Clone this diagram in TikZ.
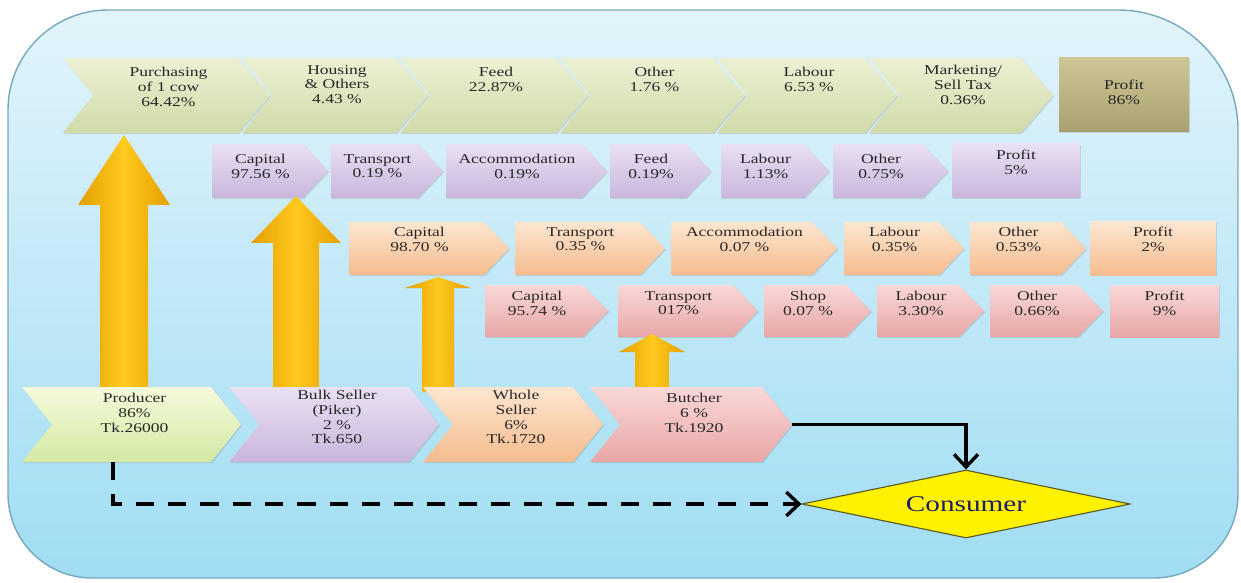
\documentclass[tikz,border=0pt]{standalone}
\usepackage{fontspec}
\setmainfont{Liberation Serif}[FakeStretch=1.3]
\usetikzlibrary{arrows.meta, shapes.geometric, shadows}

\definecolor{skytop}{RGB}{226,244,251}
\definecolor{skybot}{RGB}{160,221,243}
\definecolor{skyline}{RGB}{120,168,190}
\definecolor{sagetop}{RGB}{236,241,212}
\definecolor{sagebot}{RGB}{208,218,168}
\definecolor{khakitop}{RGB}{206,198,148}
\definecolor{khakibot}{RGB}{170,161,112}
\definecolor{lilactop}{RGB}{234,224,243}
\definecolor{lilacbot}{RGB}{200,182,220}
\definecolor{peachtop}{RGB}{253,230,208}
\definecolor{peachbot}{RGB}{245,188,142}
\definecolor{rosetop}{RGB}{250,216,216}
\definecolor{rosebot}{RGB}{232,166,166}
\definecolor{limetop}{RGB}{244,250,218}
\definecolor{limebot}{RGB}{212,233,164}
\definecolor{goldedge}{RGB}{228,158,0}
\definecolor{goldmid}{RGB}{255,202,30}
\definecolor{inktext}{RGB}{40,40,40}
\definecolor{navytext}{RGB}{30,30,100}
\definecolor{diaedge}{RGB}{90,90,40}

\tikzset{
  lbl/.style={align=center, inner sep=0pt, text=inktext, font=\fontsize{9.6}{10.5}\selectfont},
  boxshade/.style={drop shadow={opacity=0.25, shadow xshift=0.8pt, shadow yshift=-0.8pt}},
  sage/.style={boxshade, top color=sagetop, bottom color=sagebot},
  khaki/.style={boxshade, top color=khakitop, bottom color=khakibot},
  lilac/.style={boxshade, top color=lilactop, bottom color=lilacbot},
  peach/.style={boxshade, top color=peachtop, bottom color=peachbot},
  rose/.style={boxshade, top color=rosetop, bottom color=rosebot},
  lime/.style={boxshade, top color=limetop, bottom color=limebot},
  bigarrow/.style={left color=goldedge, right color=goldedge, middle color=goldmid},
  conn/.style={line width=2.4pt, -{Straight Barb[length=9pt,width=17pt]}},
  dconn/.style={conn, dash pattern=on 13pt off 10pt},
}

\newcommand{\chev}[8]{%
  \path[#2] (#3,#5) -- ({#4-\dep},#5) -- (#4,{(#5+#6)/2}) -- ({#4-\dep},#6) -- (#3,#6) -- ({#3+\notch},{(#5+#6)/2}) -- cycle;
  \node[lbl, anchor=north] (#1) at ({(#3+#4-\dep+\notch)/2+3},{#5+#7}) {#8};
  \coordinate (#1-tip) at (#4,{(#5+#6)/2});
}
\newcommand{\rbox}[8]{%
  \path[#2] (#3,#5) rectangle (#4,#6);
  \node[lbl, anchor=north] (#1) at ({(#3+#4)/2},{#5+#7}) {#8};
}
\newcommand{\upblock}[6]{%
  \path[bigarrow] ({#1-#5},#4) -- ({#1-#5},#3) -- ({#1-#6},#3) -- (#1,#2) -- ({#1+#6},#3) -- ({#1+#5},#3) -- ({#1+#5},#4) -- cycle;
}

\begin{document}
\begin{tikzpicture}[x=0.025cm, y=-0.025cm]
\useasboundingbox (0,0) rectangle (1241,583);
\path[draw=skyline, line width=1pt, top color=skytop, bottom color=skybot]
  (8,300) [rounded corners=2.5cm] -- (8,10) [rounded corners=3cm] -- (1238,10)
  [rounded corners=2.1cm] -- (1238,578) [rounded corners=2.1cm] -- (8,578) -- cycle;

\def\dep{32}\def\notch{30}
\chev{pc1}{sage}{63}{270}{58}{133}{9}{Purchasing\\of 1 cow\\64.42\%}
\chev{pc2}{sage}{242}{428}{58}{133}{7}{Housing\\\& Others\\4.43 \%}
\chev{pc3}{sage}{400}{588}{58}{133}{9}{Feed\\22.87\%}
\chev{pc4}{sage}{560}{745}{58}{133}{9}{Other\\1.76 \%}
\chev{pc5}{sage}{717}{897}{58}{133}{9}{Labour\\6.53 \%}
\chev{pc6}{sage}{869}{1053}{58}{133}{7}{Marketing/\\Sell Tax\\0.36\%}
\rbox{pc7}{khaki}{1059}{1189}{58}{132}{22}{Profit\\86\%}

\def\dep{25}\def\notch{0}
\chev{pp1}{lilac}{212}{328}{144}{198}{10}{Capital\\97.56 \%}
\chev{pp2}{lilac}{331}{443}{144}{198}{10}{Transport\\0.19 \%}
\chev{pp3}{lilac}{446}{607}{144}{198}{10}{Accommodation\\0.19\%}
\chev{pp4}{lilac}{610}{711}{144}{198}{10}{Feed\\0.19\%}
\chev{pp5}{lilac}{721}{829}{144}{198}{10}{Labour\\1.13\%}
\chev{pp6}{lilac}{833}{948}{144}{198}{10}{Other\\0.75\%}
\rbox{pp7}{lilac}{952}{1080}{144}{198}{6}{Profit\\5\%}

\chev{po1}{peach}{349}{509}{222}{275}{5}{Capital\\98.70 \%}
\chev{po2}{peach}{515}{665}{222}{275}{5}{Transport\\0.35 \%}
\chev{po3}{peach}{671}{837}{222}{275}{5}{Accommodation\\0.07 \%}
\chev{po4}{peach}{844}{964}{222}{275}{5}{Labour\\0.35\%}
\chev{po5}{peach}{970}{1086}{222}{275}{5}{Other\\0.53\%}
\rbox{po6}{peach}{1090}{1216}{222}{275}{5}{Profit\\2\%}

\chev{pk1}{rose}{485}{608}{285}{337}{6}{Capital\\95.74 \%}
\chev{pk2}{rose}{618}{758}{285}{337}{6}{Transport\\017\%}
\chev{pk3}{rose}{764}{871}{285}{337}{6}{Shop\\0.07 \%}
\chev{pk4}{rose}{877}{984}{285}{337}{6}{Labour\\3.30\%}
\chev{pk5}{rose}{990}{1103}{285}{337}{6}{Other\\0.66\%}
\rbox{pk6}{rose}{1110}{1219}{285}{337}{6}{Profit\\9\%}

\upblock{124}{135}{205}{392}{24}{46}
\upblock{296}{196}{243}{392}{23}{45}
\upblock{438}{277}{288}{392}{16}{33}
\upblock{652}{334}{352}{392}{17}{33}

\def\dep{30}\def\notch{30}
\chev{prod}{lime}{22}{241}{387}{462}{6}{Producer\\86\%\\Tk.26000}
\chev{bulk}{lilac}{229}{439}{387}{462}{3}{Bulk Seller\\(Piker)\\2 \%\\Tk.650}
\chev{whole}{peach}{423}{603}{387}{462}{3}{Whole\\Seller\\6\%\\Tk.1720}
\chev{butch}{rose}{590}{792}{387}{462}{6}{Butcher\\6 \%\\Tk.1920}

\node[diamond, draw=diaedge, line width=0.8pt, fill=yellow, aspect=4.8,
  minimum width=8.2cm, minimum height=1.7cm, inner sep=0pt, text=navytext,
  font=\fontsize{16}{18}\selectfont] (cons) at (966,504) {Consumer};

\coordinate (prod-foot) at (113,462);
\draw[conn] (butch-tip) -| (cons.north);
\draw[dconn] (prod-foot) |- (cons.west);
\end{tikzpicture}
\end{document}
